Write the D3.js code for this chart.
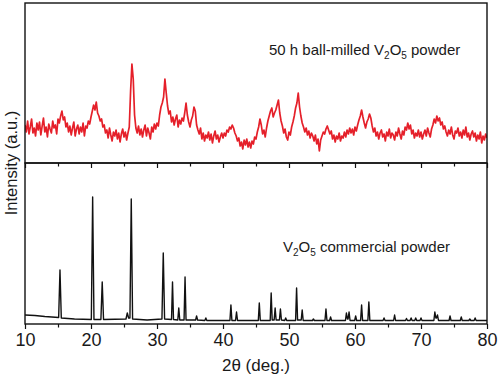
<!DOCTYPE html>
<html><head><meta charset="utf-8">
<script src="https://cdn.jsdelivr.net/npm/d3@7"></script>
<style>
body{margin:0;background:#fff}
svg{display:block}
text{font-family:"Liberation Sans",Arial,sans-serif;fill:#1a1a1a}
</style>
</head><body><svg id="c" width="500" height="378"></svg>
<script>
// ---------- data ----------
const majorTicks = [10, 20, 30, 40, 50, 60, 70, 80];
const minorTicks = [15, 25, 35, 45, 55, 65, 75];
const xDomain = [10, 80];

// 50 h ball-milled V2O5 powder: intensity (a.u.) sampled every 0.2 deg from 10 deg
const ballMilledStart = 10, ballMilledStep = 0.2;
const ballMilledIntensity = [
 38,31,42,29,36,44,30,35,27,40,
 33,41,28,37,45,31,36,26,39,34,
 30,42,35,38,29,44,40,47,52,43,
 46,36,40,31,37,28,35,41,27,34,
 38,29,36,31,40,27,37,35,42,39,
 46,52,58,53,61,50,47,42,44,36,
 38,30,33,25,35,28,22,31,27,33,
 24,30,21,29,34,26,31,23,30,36,
 72,99,84,48,35,30,37,28,34,26,
 33,38,27,35,30,24,36,31,39,34,
 40,37,48,56,60,66,84,70,57,49,
 52,41,46,38,44,48,36,43,39,45,
 42,50,60,48,41,36,43,47,56,52,
 38,33,29,35,24,30,22,28,25,31,
 23,29,20,27,32,24,28,21,26,30,
 25,30,27,33,31,36,34,38,35,30,
 27,22,25,17,21,14,23,18,24,16,
 21,15,22,19,26,24,31,36,44,38,
 29,33,26,35,42,47,52,55,46,50,
 53,58,63,50,42,37,30,34,26,23,
 31,28,36,41,47,55,60,70,56,47,
 40,36,31,35,28,32,25,30,27,22,
 28,19,24,12,23,27,31,29,34,37,
 33,29,32,24,28,21,27,24,30,22,
 27,25,31,26,33,29,35,30,34,28,
 36,32,38,43,47,53,46,40,35,41,
 44,49,45,37,31,35,27,31,24,30,
 33,26,29,22,31,27,34,25,30,28,
 23,31,27,35,29,24,32,28,36,33,
 40,34,38,29,33,25,30,27,33,26,
 31,24,29,33,27,35,30,26,34,38,
 44,40,47,42,45,38,41,34,37,31,
 27,33,29,36,28,24,32,30,35,27,
 31,25,33,28,36,26,30,23,29,32,
 26,30,22,28,24,31,20,27,23,29,
 25
];

// V2O5 commercial powder: (2theta, intensity) points
const commercialTheta = [
 10.0,11.5,13.0,15.1,15.3,15.5,17.5,20.05,20.25,20.45,21.5,21.7,21.9,
 25.3,25.5,25.7,25.9,26.1,26.3,28.5,30.75,30.95,31.15,32.2,32.35,32.5,
 33.15,33.3,33.45,34.1,34.25,34.4,35.85,36.0,36.15,37.25,37.4,37.55,
 41.05,41.2,41.35,41.9,42.05,42.2,45.35,45.5,45.65,47.15,47.3,47.45,
 47.75,47.9,48.05,48.55,48.7,48.85,49.35,49.5,49.65,51.0,51.15,51.3,
 51.85,52.0,52.15,53.55,53.7,53.85,55.45,55.6,55.75,56.15,56.3,56.45,
 58.55,58.7,58.85,58.95,59.1,59.25,59.95,60.1,60.25,60.85,61.0,61.15,
 61.95,62.1,62.25,64.25,64.4,64.55,65.85,66.0,66.15,67.65,67.8,67.95,
 68.35,68.5,68.65,69.05,69.2,69.35,69.85,70.0,70.15,71.95,72.1,72.25,
 72.35,72.5,72.65,74.25,74.4,74.55,75.95,76.1,76.25,77.25,77.4,77.55,
 78.05,78.2,78.35,80.0
];
const commercialIntensity = [
 9,8.5,7.5,6.5,54,6,5,4.5,127,4.5,4.5,42,4.5,
 5,11,6,6,125,5,4,5,71,5,4.5,42,4.5,
 4,16,4,4,47,4,4,8,4,3.5,6,3.5,
 3.5,19,3.5,3.5,12,3.5,3.5,21,3.5,3.5,31,4,
 4,16,4,4,15,4,3.5,6,3.5,3.5,36,4,
 4,14,3.5,3.5,5,3.5,3.5,15,3.5,3.5,7,3.5,
 3.5,11,5,5,12,3.5,3.5,8,3.5,3.5,19,3.5,
 3.5,22,3.5,3.5,6,3.5,3.5,9,3.5,3.5,5.5,3.5,
 3.5,6,3.5,3.5,6,3.5,3.5,6,3.5,3.5,12,6,
 6,9,3.5,3.5,8,3.5,3.5,7,3.5,3.5,5,3.5,
 3.5,6,3.5,3.5
];

const xTitle = "2θ (deg.)";
const yTitle = "Intensity (a.u.)";

// ---------- layout ----------
const L = 25, R = 487, T = 3, M = 163, B = 324;
const svg = d3.select("#c");

const x = d3.scaleLinear().domain(xDomain).range([L, R]);
const yTop = d3.scaleLinear().domain([0, 160]).range([M, T]);
const yBot = d3.scaleLinear().domain([0, 161]).range([B, M]);

const defs = svg.append("defs");
defs.append("clipPath").attr("id", "clipTop").append("rect")
  .attr("x", L).attr("y", T).attr("width", R - L).attr("height", M - T);
defs.append("clipPath").attr("id", "clipBot").append("rect")
  .attr("x", L).attr("y", M).attr("width", R - L).attr("height", B - M);

// red trace
const redData = ballMilledIntensity.map((v, i) => [ballMilledStart + i * ballMilledStep, v]);
svg.append("path")
  .datum(redData)
  .attr("clip-path", "url(#clipTop)")
  .attr("fill", "none")
  .attr("stroke", "#e5202a")
  .attr("stroke-width", 1.7)
  .attr("stroke-linejoin", "round")
  .attr("d", d3.line().x(d => x(d[0])).y(d => yTop(d[1])));

// black trace
const blackData = commercialTheta.map((t, i) => [t, commercialIntensity[i]]);
svg.append("path")
  .datum(blackData)
  .attr("clip-path", "url(#clipBot)")
  .attr("fill", "none")
  .attr("stroke", "#111")
  .attr("stroke-width", 1.4)
  .attr("stroke-linejoin", "round")
  .attr("d", d3.line().x(d => x(d[0])).y(d => yBot(d[1])));

// axes (ticks outward below each panel)
function drawAxis(yPos, withLabels) {
  const gMaj = svg.append("g").attr("transform", `translate(0,${yPos})`)
    .call(d3.axisBottom(x).tickValues(majorTicks).tickSize(5).tickPadding(4)
      .tickFormat(withLabels ? d3.format("d") : () => ""));
  const gMin = svg.append("g").attr("transform", `translate(0,${yPos})`)
    .call(d3.axisBottom(x).tickValues(minorTicks).tickSize(3.5).tickFormat(() => ""));
  [gMaj, gMin].forEach(g => {
    g.select(".domain").remove();
    g.selectAll(".tick line").attr("stroke", "#111").attr("stroke-width", 1.2);
  });
  gMaj.selectAll(".tick text")
    .attr("font-size", 18).attr("fill", "#1a1a1a")
    .attr("font-family", '"Liberation Sans",Arial,sans-serif');
}
drawAxis(M, false);
drawAxis(B, true);

// frames
svg.append("rect").attr("x", L).attr("y", T).attr("width", R - L).attr("height", M - T)
  .attr("fill", "none").attr("stroke", "#111").attr("stroke-width", 1.4);
svg.append("rect").attr("x", L).attr("y", M).attr("width", R - L).attr("height", B - M)
  .attr("fill", "none").attr("stroke", "#111").attr("stroke-width", 1.4);

// axis titles
svg.append("text").attr("x", (L + R) / 2).attr("y", 371)
  .attr("text-anchor", "middle").attr("font-size", 17).text(xTitle);
svg.append("text")
  .attr("transform", `translate(17,${M}) rotate(-90)`)
  .attr("text-anchor", "middle").attr("font-size", 16.5).text(yTitle);

// annotations with subscripts
function formulaLabel(xp, yp, pre, post) {
  const t = svg.append("text").attr("x", xp).attr("y", yp).attr("font-size", 15);
  t.append("tspan").text(pre + "V");
  t.append("tspan").attr("font-size", 10).attr("dy", 4).text("2");
  t.append("tspan").attr("dy", -4).text("O");
  t.append("tspan").attr("font-size", 10).attr("dy", 4).text("5");
  t.append("tspan").attr("dy", -4).text(post);
}
formulaLabel(269, 55, "50 h ball-milled ", " powder");
formulaLabel(283, 252, "", " commercial powder");
</script>
</body></html>
